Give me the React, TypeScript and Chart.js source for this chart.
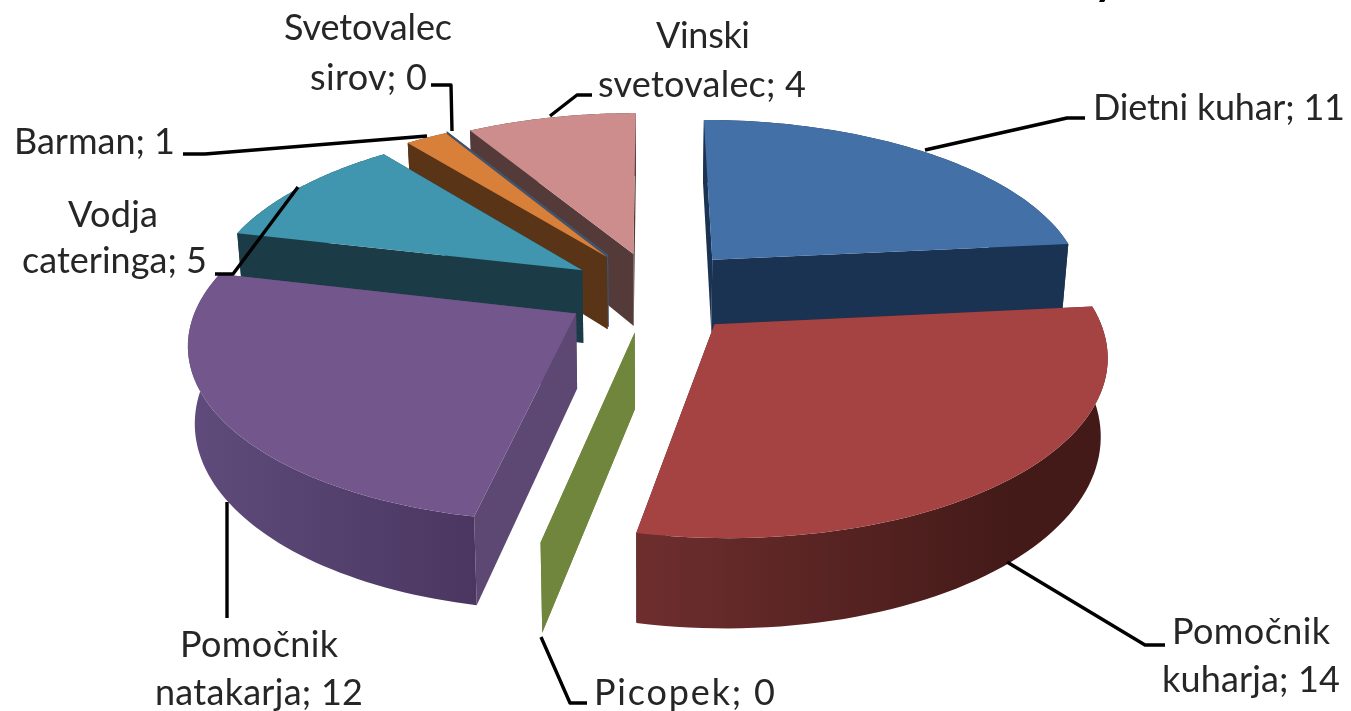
import React, { useEffect, useRef } from "react";
import { Chart, registerables } from "chart.js";

Chart.register(...registerables);

// ---- data ----
const categories = ["Dietni kuhar", "Pomočnik kuharja", "Picopek", "Pomočnik natakarja", "Vodja cateringa", "Barman", "Svetovalec sirov", "Vinski svetovalec"];
const values = [11, 14, 0, 12, 5, 1, 0, 4];
const wrapped = [false, true, false, true, true, false, true, true];
const titleFragment = "y";

// ---- style ----
const explode = [85, 85, 70, 69, 62, 62, 62, 57];
const topColors = ["#4470a8", "#a54343", "#6f863c", "#72568c", "#3f96ae", "#d8803a", "#3e5572", "#cd8d8d"];
const wallColors = ["#1a3352", "#5a2222", "#6f863c", "#5c4873", "#1b3c47", "#5a3416", "#3e5572", "#553a3a"];
const rimFrom = ["#1a3352", "#6e2e2e", "#6f863c", "#604c7c", "#1b3c47", "#5a3416", "#3e5572", "#553a3a"];
const rimTo = ["#1a3352", "#431a18", "#6f863c", "#4a3660", "#1b3c47", "#5a3416", "#3e5572", "#553a3a"];
const paintOrder = [0, 7, 6, 5, 4, 3, 2, 1];
// small screen-space corrections for the reference's perspective
const nudgeX = [-1, -3, 5, 0, -3, 1, -2, 4];
const nudgeY = [0, -4, 1, 0, -5, -9, -10, -10];

// ---- projection of the pie plane ----
const CX = 647, CY = 293, RX = 375, RY = 170, PERSP = 0.15, DEPTH = 74, SHRINK = 0.015;
function project(X: number, Y: number, z: number) {
  const w = 1 / (1 - PERSP * Y);
  return { x: CX + X * RX * w * (1 - SHRINK * z), y: CY + Y * RY * w + z * DEPTH * w };
}

// ---- label layout: one entry per category, [left, right, baseline] per line ----
const labelBoxes: number[][][] = [
  [[1093, 1345, 120]],
  [[1172, 1330, 644], [1162, 1340, 692]],
  [[594, 775, 705]],
  [[180, 338, 657], [155, 363, 705]],
  [[68, 158, 227], [22, 207, 273]],
  [[14, 175, 154]],
  [[284, 452, 40], [310, 427, 90]],
  [[656, 750, 48], [598, 806, 97]],
];
const leaders: number[][][] = [
  [[1085, 118], [1067, 118], [925, 150]],
  [[1165, 645], [1145, 645], [1007, 562]],
  [[587, 703], [570, 703], [541, 637]],
  [[227, 618], [227, 502]],
  [[215, 274], [233, 274], [298, 187]],
  [[183, 154], [205, 154], [427, 136]],
  [[431, 85], [451, 85], [452, 131]],
  [[592, 95], [577, 95], [550, 116]],
];

const pie3d = {
  id: "pie3d",
  beforeDatasetsDraw(chart: any) {
    const ctx = chart.ctx as CanvasRenderingContext2D;
    const arcs = chart.getDatasetMeta(0).data;
    const STEPS = 64;
    paintOrder.forEach((i) => {
      const el = arcs[i];
      const p = el.getProps(["startAngle", "endAngle", "outerRadius"], true);
      const R = p.outerRadius;
      const mid = (p.startAngle + p.endAngle) / 2;
      const off = el.options.offset / R;
      const ox = Math.cos(mid) * off;
      const oy = Math.sin(mid) * off;
      const place = (X: number, Y: number, z: number) => {
        const q = project(X, Y, z);
        return { x: q.x + nudgeX[i], y: q.y + nudgeY[i] };
      };
      const edge = (a: number, z: number) => place(ox + Math.cos(a), oy + Math.sin(a), z);
      const apex = (z: number) => place(ox, oy, z);
      const poly = (pts: { x: number; y: number }[], fill: string | CanvasGradient) => {
        ctx.beginPath();
        pts.forEach((q, n) => (n ? ctx.lineTo(q.x, q.y) : ctx.moveTo(q.x, q.y)));
        ctx.closePath();
        ctx.fillStyle = fill;
        ctx.fill();
      };
      // radial walls
      [p.startAngle, p.endAngle].forEach((a: number) => {
        poly([apex(0), edge(a, 0), edge(a, 1), apex(1)], wallColors[i]);
      });
      // rim and top face
      const topPts: { x: number; y: number }[] = [];
      const botPts: { x: number; y: number }[] = [];
      for (let s = 0; s <= STEPS; s++) {
        const a = p.startAngle + ((p.endAngle - p.startAngle) * s) / STEPS;
        topPts.push(edge(a, 0));
        botPts.push(edge(a, 1));
      }
      const xs = topPts.map((q) => q.x);
      const minX = Math.min(...xs), maxX = Math.max(...xs);
      if (maxX - minX > 1) {
        const g = ctx.createLinearGradient(minX, 0, maxX, 0);
        const leftSide = Math.cos(mid) < 0;
        g.addColorStop(0, rimFrom[i]);
        g.addColorStop(leftSide ? 1 : 0.8, rimTo[i]);
        g.addColorStop(1, rimTo[i]);
        poly([...topPts, ...botPts.reverse()], g);
      }
      poly([apex(0), ...topPts], topColors[i]);
    });
    return false;
  },
  afterDraw(chart: any) {
    const ctx = chart.ctx as CanvasRenderingContext2D;
    ctx.save();
    ctx.strokeStyle = "#000";
    ctx.lineWidth = 3.4;
    ctx.lineJoin = "round";
    leaders.forEach((line) => {
      ctx.beginPath();
      line.forEach(([x, y], n) => (n ? ctx.lineTo(x, y) : ctx.moveTo(x, y)));
      ctx.stroke();
    });
    ctx.fillStyle = "#262626";
    ctx.textBaseline = "alphabetic";
    ctx.textAlign = "left";
    ctx.font = '36px Lato';
    categories.forEach((name, i) => {
      const full = `${name}; ${values[i]}`;
      const cut = full.indexOf(" ");
      const lines = wrapped[i] ? [full.slice(0, cut), full.slice(cut + 1)] : [full];
      lines.forEach((text, n) => {
        const [l, r, base] = labelBoxes[i][n];
        (ctx as any).letterSpacing = "0px";
        const spare = r - l - ctx.measureText(text).width;
        (ctx as any).letterSpacing = `${spare / Math.max(1, text.length - 1)}px`;
        ctx.fillText(text, l, base);
      });
    });
    (ctx as any).letterSpacing = "0px";
    ctx.fillStyle = "#000";
    ctx.font = 'bold 44px Lato';
    ctx.fillText(titleFragment, 1094, -5);
    ctx.restore();
  },
};

export default function App() {
  const ref = useRef<HTMLCanvasElement>(null);
  useEffect(() => {
    document.body.style.margin = "0";
    document.body.style.background = "#fff";
    const chart = new Chart(ref.current!, {
      type: "pie",
      data: {
        labels: categories,
        datasets: [{ data: values, backgroundColor: topColors, borderWidth: 0, offset: explode }],
      },
      options: {
        animation: false,
        responsive: false,
        plugins: { legend: { display: false }, tooltip: { enabled: false }, title: { display: false } },
      },
      plugins: [pie3d],
    } as any);
    return () => chart.destroy();
  }, []);
  return <canvas ref={ref} width={1351} height={711} style={{ display: "block", filter: "blur(0.6px)" }} />;
}
